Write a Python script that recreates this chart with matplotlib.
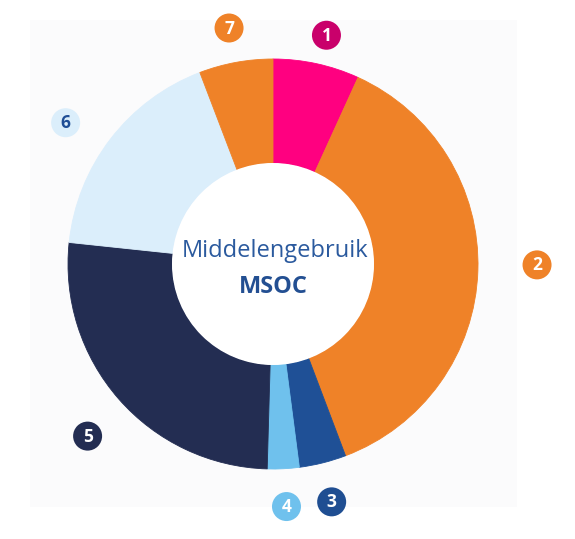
import numpy as np
import matplotlib.pyplot as plt
from matplotlib.patches import Rectangle, Circle

plt.rcParams['font.family'] = ['Open Sans', 'DejaVu Sans']

# aandeel per categorie (procent), met de klok mee vanaf 12 uur
labels = ['1', '2', '3', '4', '5', '6', '7']
shares = [6.8, 37.4, 3.7, 2.5, 26.2, 17.5, 5.8]

wedge_colors = ['#ff0080', '#ef8228', '#1f5096', '#6fc1ed', '#232d52', '#dbeefb', '#ef8228']
badge_colors = ['#c9006b', '#ef8228', '#1f4e92', '#6fc1ed', '#232d52', '#dbeefb', '#ef8228']
badge_text = ['white', 'white', 'white', 'white', 'white', '#1f4e96', 'white']
# plaats van de nummerbolletjes: afstand (in straal-eenheden) en
# verschuiving t.o.v. het midden van het segment (graden, met de klok mee)
badge_dist = [1.146, 1.288, 1.195, 1.185, 1.234, 1.224, 1.171]
badge_shift = [0.9, -1.7, 0.2, -0.3, -1.7, -3.3, -0.1]

W, H = 575, 539
CX, CY = 273, H - 264
R = 205
R_IN = 101

fig = plt.figure(figsize=(W / 100, H / 100), dpi=100)
fig.patch.set_facecolor('white')
ax = fig.add_axes([0, 0, 1, 1])

ax.add_patch(Rectangle((30, H - 507), 487, 487, facecolor='#fbfbfc', edgecolor='none', zorder=0))

wedges, _ = ax.pie(shares, colors=wedge_colors, startangle=90, counterclock=False,
                   center=(CX, CY), radius=R,
                   wedgeprops=dict(width=R - R_IN, linewidth=0.6, zorder=2))
for w, c in zip(wedges, wedge_colors):
    w.set_edgecolor(c)

ax.add_patch(Circle((CX, CY), R_IN, facecolor='white', edgecolor='none', zorder=3))

for w, lab, bc, tc, d, s in zip(wedges, labels, badge_colors, badge_text, badge_dist, badge_shift):
    mid = np.deg2rad((w.theta1 + w.theta2) / 2 - s)
    bx = CX + d * R * np.cos(mid)
    by = CY + d * R * np.sin(mid)
    ax.add_patch(Circle((bx, by), 14.5, facecolor=bc, edgecolor='none', zorder=4))
    ax.text(bx, by - 0.5, lab, color=tc, fontsize=12.5, fontweight='bold',
            ha='center', va='center', zorder=5)

ax.text(275, H - 256.7, 'Middelengebruik', color='#2b5a9e', fontsize=17,
        ha='center', va='baseline', zorder=5)
ax.text(273.7, H - 292.7, 'MSOC', color='#234f92', fontsize=17, fontweight='bold',
        ha='center', va='baseline', zorder=5)

ax.set_xlim(0, W)
ax.set_ylim(0, H)
ax.set_aspect('auto')
ax.axis('off')

fig.savefig('out.png', dpi=100, facecolor='white')
